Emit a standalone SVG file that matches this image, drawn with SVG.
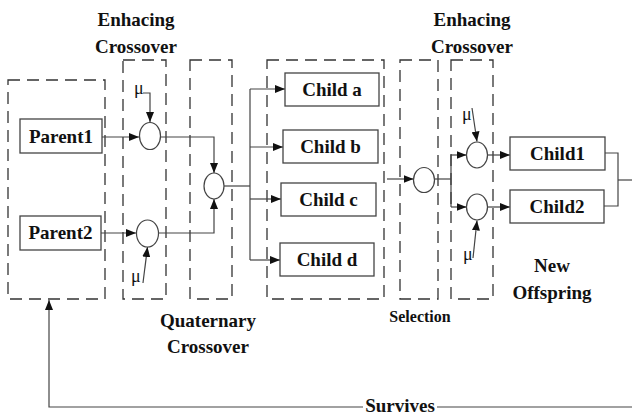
<svg xmlns="http://www.w3.org/2000/svg" width="632" height="415" viewBox="0 0 632 415">
<defs>
<marker id="ah" markerUnits="userSpaceOnUse" markerWidth="10" markerHeight="8" refX="10" refY="4" orient="auto">
<path d="M0,0 L10,4 L0,8 Z" fill="#111"/>
</marker>
<style>
.dash{fill:none;stroke:#333;stroke-width:1.3;stroke-dasharray:12 7}
.box{fill:#fff;stroke:#444;stroke-width:1.3}
.circ{fill:#fff;stroke:#444;stroke-width:1.2}
.ln{fill:none;stroke:#444;stroke-width:1.2}
.arr{fill:none;stroke:#444;stroke-width:1.2;marker-end:url(#ah)}
.t{font-family:"Liberation Serif","Times New Roman",serif;font-weight:bold;font-size:19px;fill:#111;text-anchor:middle}
.s{font-family:"Liberation Serif","Times New Roman",serif;font-weight:bold;font-size:16px;fill:#111;text-anchor:middle}
.mu{font-family:"Liberation Serif","Times New Roman",serif;font-size:18px;fill:#111}
</style>
</defs>
<rect width="632" height="415" fill="#fff"/>

<g id="stages">
<rect id="stage-parents" class="dash" x="8" y="80" width="97" height="219"/>
<rect id="stage-enh1" class="dash" x="123" y="60" width="43" height="239"/>
<rect id="stage-quat" class="dash" x="190" y="60" width="42" height="239"/>
<rect id="stage-children" class="dash" x="267" y="60" width="117" height="239"/>
<rect id="stage-sel" class="dash" x="400" y="60" width="38" height="239"/>
<rect id="stage-enh2" class="dash" x="451" y="60" width="42" height="239"/>
</g>

<g id="connectors">
<path class="arr" d="M102,137 L139,137"/>
<path class="arr" d="M101,233 L136,233"/>
<path class="arr" d="M143,93 L150,93 L150,122"/>
<path class="arr" d="M143,283 L147.5,247"/>
<path class="arr" d="M161,137 L214,137 L214,173"/>
<path class="arr" d="M159,233 L214,233 L214,199"/>
<path class="ln" d="M224,186 L250,186"/>
<path class="ln" d="M250,89 L250,260"/>
<path class="arr" d="M250,89 L285,89"/>
<path class="arr" d="M250,147 L283,147"/>
<path class="arr" d="M250,199 L281,199"/>
<path class="arr" d="M250,260 L280,260"/>
<path class="arr" d="M387,179 L413.5,179"/>
<path class="ln" d="M434.5,179 L451,179"/>
<path class="ln" d="M451,155 L451,207"/>
<path class="arr" d="M451,155 L466.5,155"/>
<path class="arr" d="M451,207 L466.5,207"/>
<path class="arr" d="M472,108 L477,141.5"/>
<path class="arr" d="M473,258 L477,220.5"/>
<path class="arr" d="M487.5,155 L510,155"/>
<path class="arr" d="M487.5,207 L510,207"/>
<path class="ln" d="M605,153 L618,153 L618,206 L604,206"/>
<path class="ln" d="M618,180 L632,180"/>
<path class="ln" d="M632,407 L437,407"/>
<path class="arr" d="M363,407 L49,407 L49,300"/>
</g>

<g id="parent1"><rect class="box" x="20" y="119" width="82" height="34"/><text class="t" x="61" y="143">Parent1</text></g>
<g id="parent2"><rect class="box" x="20" y="216" width="81" height="34"/><text class="t" x="60.5" y="239">Parent2</text></g>

<g id="enh1-top"><ellipse class="circ" cx="150" cy="136" rx="10.5" ry="13.5"/><text class="mu" x="134" y="94">μ</text></g>
<g id="enh1-bottom"><ellipse class="circ" cx="147.5" cy="233.5" rx="11" ry="13.5"/><text class="mu" x="131" y="282">μ</text></g>
<g id="quat-op"><ellipse class="circ" cx="214" cy="186" rx="10" ry="13"/></g>

<g id="child-a"><rect class="box" x="285" y="73" width="94" height="33"/><text class="t" x="332" y="96">Child a</text></g>
<g id="child-b"><rect class="box" x="283" y="130" width="95" height="33"/><text class="t" x="330.5" y="153">Child b</text></g>
<g id="child-c"><rect class="box" x="281" y="183" width="95" height="33"/><text class="t" x="328.5" y="206">Child c</text></g>
<g id="child-d"><rect class="box" x="280" y="243" width="94" height="33"/><text class="t" x="327" y="266">Child d</text></g>

<g id="sel-op"><ellipse class="circ" cx="424" cy="180" rx="10.5" ry="12.5"/></g>
<g id="enh2-top"><ellipse class="circ" cx="477" cy="155" rx="10.5" ry="13"/><text class="mu" x="462" y="120">μ</text></g>
<g id="enh2-bottom"><ellipse class="circ" cx="477" cy="207" rx="10.5" ry="13"/><text class="mu" x="463" y="260">μ</text></g>

<g id="child1"><rect class="box" x="510" y="137" width="95" height="33"/><text class="t" x="557.5" y="160">Child1</text></g>
<g id="child2"><rect class="box" x="510" y="190" width="94" height="33"/><text class="t" x="557" y="213">Child2</text></g>

<g id="labels">
<text class="t" x="136" y="26">Enhacing</text>
<text class="t" x="136" y="53">Crossover</text>
<text class="t" x="472" y="26">Enhacing</text>
<text class="t" x="472" y="53">Crossover</text>
<text class="t" x="208" y="327">Quaternary</text>
<text class="t" x="208" y="353">Crossover</text>
<text class="s" x="420" y="322">Selection</text>
<text class="t" x="552" y="272">New</text>
<text class="t" x="552" y="299">Offspring</text>
<text class="t" x="400" y="412">Survives</text>
</g>
</svg>
